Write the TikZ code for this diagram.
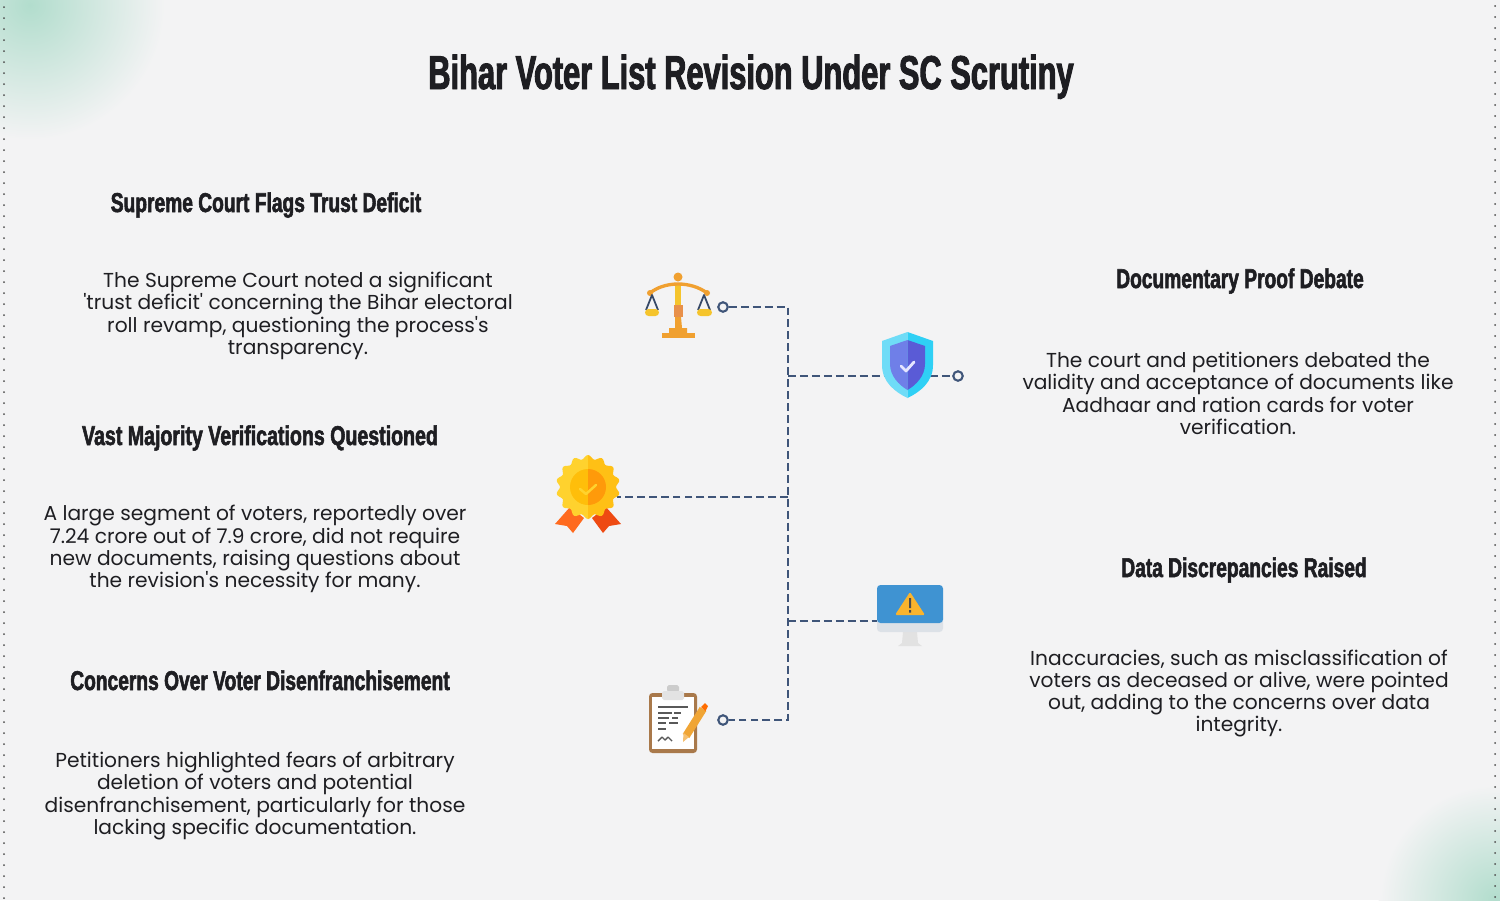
\documentclass[tikz,border=0pt]{standalone}
\usepackage{fontspec}
\newfontfamily\bodyfont{Poppins}
\newfontfamily\titlefont[FakeStretch=0.65,FakeBold=2]{Liberation Sans Bold}
\newfontfamily\headfont[FakeStretch=0.705,FakeBold=2]{Liberation Sans Bold}
\usetikzlibrary{positioning}
\definecolor{pagebg}{HTML}{F3F3F4}
\definecolor{glow}{HTML}{B2DDCD}
\definecolor{linkblue}{HTML}{3F5579}
\definecolor{inkdark}{HTML}{1E1E22}
\definecolor{scalegold}{HTML}{F0A030}
\definecolor{panyellow}{HTML}{F5C42C}
\definecolor{scaleblock}{HTML}{E8904A}
\definecolor{shieldA}{HTML}{6FDCF7}
\definecolor{shieldB}{HTML}{2FD0F5}
\definecolor{shieldC}{HTML}{6F7FE8}
\definecolor{shieldD}{HTML}{5A5BD6}
\definecolor{medalA}{HTML}{FFD22E}
\definecolor{medalB}{HTML}{FFC015}
\definecolor{medalC}{HTML}{FFBE0A}
\definecolor{medalD}{HTML}{FF9A0A}
\definecolor{ribbonA}{HTML}{FF6A1E}
\definecolor{ribbonB}{HTML}{EE4A12}
\definecolor{screenblue}{HTML}{3F93D2}
\definecolor{warnyellow}{HTML}{F9B42D}
\definecolor{chingray}{HTML}{DCE1E7}
\definecolor{standgray}{HTML}{E2E2E2}
\definecolor{boardbrown}{HTML}{A9794B}
\definecolor{pencilgold}{HTML}{F0A535}
\tikzset{
  titletext/.style={font=\titlefont\fontsize{27pt}{30pt}\selectfont,text=inkdark,inner sep=0pt,anchor=base},
  headtext/.style={font=\headfont\fontsize{15.5pt}{18pt}\selectfont,text=inkdark,inner sep=0pt,anchor=base},
  bodytext/.style={font=\bodyfont\fontsize{11.5pt}{12.65pt}\selectfont,text=inkdark,align=center,inner sep=0pt},
  link/.style={draw=linkblue,line width=1.4pt,dash pattern=on 4.5pt off 2.3pt},
  ring/.style={circle,draw=linkblue,line width=1.2pt,fill=pagebg,minimum size=5.4pt,inner sep=0pt},
  edgedot/.style={fill=black!70,radius=1},
}
\begin{document}
\begin{tikzpicture}[x=0.02cm,y=-0.02cm]
  % page and corner glow
  \fill[pagebg] (0,0) rectangle (1500,900);
  \begin{scope}
    \clip (0,0) rectangle (1500,900);
    \fill[inner color=glow,outer color=pagebg] (30,5) circle (135);
    \draw[pagebg,line width=1.5pt] (30,5) circle (135);
    \fill[inner color=glow,outer color=pagebg] (1495,900) circle (115);
    \draw[pagebg,line width=1.5pt] (1495,900) circle (115);
  \end{scope}
  \foreach \y in {7,18,...,900} {
    \fill[edgedot] (4,\y) circle;
    \fill[edgedot] (1495,\y-1) circle;
  }
  \useasboundingbox (0,0) rectangle (1500,900);

  % texts
  \node[titletext] (title) at (751,89) {Bihar Voter List Revision Under SC Scrutiny};
  \node[headtext] (headTrust) at (266,212) {Supreme Court Flags Trust Deficit};
  \node[bodytext] (bodyTrust) at (298,316) {The Supreme Court noted a significant\\'trust deficit' concerning the Bihar electoral\\roll revamp, questioning the process's\\transparency.};
  \node[headtext,xscale=1.02] (headMajority) at (260,445) {Vast Majority Verifications Questioned};
  \node[bodytext] (bodyMajority) at (255,549) {A large segment of voters, reportedly over\\7.24 crore out of 7.9 crore, did not require\\new documents, raising questions about\\the revision's necessity for many.};
  \node[headtext] (headConcern) at (260,690) {Concerns Over Voter Disenfranchisement};
  \node[bodytext] (bodyConcern) at (255,796) {Petitioners highlighted fears of arbitrary\\deletion of voters and potential\\disenfranchisement, particularly for those\\lacking specific documentation.};
  \node[headtext] (headProof) at (1240,288) {Documentary Proof Debate};
  \node[bodytext] (bodyProof) at (1238,393.5) {The court and petitioners debated the\\validity and acceptance of documents like\\Aadhaar and ration cards for voter\\verification.};
  \node[headtext] (headData) at (1244,577) {Data Discrepancies Raised};
  \node[bodytext] (bodyData) at (1239,693.5) {Inaccuracies, such as misclassification of\\voters as deceased or alive, were pointed\\out, adding to the concerns over data\\integrity.};

  % connectors
  \coordinate (trunkTop) at (788,307);
  \coordinate (trunkBot) at (788,720);
  \coordinate (jShield) at (788,376);
  \coordinate (jMedal) at (788,497);
  \coordinate (jScreen) at (788,621);
  \coordinate (medalEnd) at (617,497);
  \coordinate (screenEnd) at (877,621);
  \coordinate (shieldEnd) at (885,376);
  \coordinate (shieldOut) at (930,376);
  \node[ring] (ringScale) at (723,307) {};
  \node[ring] (ringShield) at (958,376) {};
  \node[ring] (ringClip) at (723,720) {};
  \draw[link] (ringScale) -- (trunkTop) -- (trunkBot) -- (ringClip);
  \draw[link] (jShield) -- (shieldEnd);
  \draw[link] (shieldOut) -- (ringShield);
  \draw[link] (jMedal) -- (medalEnd);
  \draw[link] (jScreen) -- (screenEnd);

  % scales
  \fill[panyellow] (675,283) rectangle (681,305);
  \fill[scalegold] (678,277) circle (4.5);
  \draw[scalegold,line width=1.9pt,line cap=round] (650,293) .. controls (665,281) and (691,281) .. (707,293);
  \fill[scalegold] (650,293) circle (3) (707,293) circle (3);
  \draw[linkblue!85!black,line width=1pt,line join=round] (646,310) -- (652,295) -- (658,310);
  \draw[linkblue!85!black,line width=1pt,line join=round] (698,310) -- (704,295) -- (710,310);
  \fill[panyellow,rounded corners=2pt] (645,309) -- (659,309) -- (659,316) -- (645,316) -- cycle;
  \fill[panyellow,rounded corners=2pt] (697,309) -- (712,309) -- (712,316) -- (697,316) -- cycle;
  \fill[scaleblock] (674,305) rectangle (683,317);
  \fill[scalegold] (675,317) -- (681,317) -- (682,328) -- (687,328) -- (687,333) -- (669,333) -- (669,328) -- (675,328) -- cycle;
  \fill[scalegold] (662,333) rectangle (695,338);

  % shield
  \fill[shieldA] (907.5,332) -- (882,341) -- (882,365) .. controls (882,382) and (895,392) .. (907.5,398) -- cycle;
  \fill[shieldB] (907.5,332) -- (933,341) -- (933,365) .. controls (933,382) and (920,392) .. (907.5,398) -- cycle;
  \fill[shieldC] (907.5,340) -- (890,346) -- (890,364) .. controls (890,376) and (899,385) .. (907.5,390) -- cycle;
  \fill[shieldD] (907.5,340) -- (925,346) -- (925,364) .. controls (925,376) and (916,385) .. (907.5,390) -- cycle;
  \draw[white!90!blue,line width=1.6pt,line cap=round,line join=round] (901,366) -- (906,371) -- (914,362);

  % medal
  \fill[ribbonA] (570,507) -- (555,524) -- (567,526) -- (573,533) -- (584,518) -- cycle;
  \fill[ribbonB] (606,507) -- (621,524) -- (609,526) -- (603,533) -- (592,518) -- cycle;
  \begin{scope}
    \clip (550,450) rectangle (588,525);
    \fill[medalA] plot[samples=113,domain=0:360] ({588+(30+2*cos(14*\x))*sin(\x)},{487+(30+2*cos(14*\x))*cos(\x)}) -- cycle;
    \fill[medalC] (588,487) circle (18);
  \end{scope}
  \begin{scope}
    \clip (588,450) rectangle (625,525);
    \fill[medalB] plot[samples=113,domain=0:360] ({588+(30+2*cos(14*\x))*sin(\x)},{487+(30+2*cos(14*\x))*cos(\x)}) -- cycle;
    \fill[medalD] (588,487) circle (18);
  \end{scope}
  \draw[medalA,line width=1.4pt,line cap=round,line join=round] (580,489) -- (586,494) -- (596,485);

  % monitor
  \fill[standgray] (903,632) -- (917,632) -- (918,643) -- (922,646) -- (898,646) -- (902,643) -- cycle;
  \fill[chingray,rounded corners=2pt] (877,615) rectangle (943,632);
  \fill[screenblue,rounded corners=2pt] (877,585) -- (943,585) -- (943,623) -- (877,623) -- cycle;
  \fill[warnyellow,rounded corners=0.8pt] (910,592) -- (925,615) -- (895,615) -- cycle;
  \fill[black!70] (909,598) rectangle (911,608) (909,610) rectangle (911,612.5);

  % clipboard
  \fill[boardbrown,rounded corners=2pt] (649,693) rectangle (697,753);
  \fill[white] (652,697) rectangle (694,749);
  \fill[gray!40,rounded corners=1pt] (667,685) rectangle (679,692);
  \fill[gray!22,rounded corners=1pt] (662,691) rectangle (684,700);
  \foreach \xa/\xb/\ya in {658/688/707,658/672/713,674/681/713,658/669/718,672/678/718,658/666/723,669/678/723,658/666/729}
    \draw[black!65,line width=0.8pt] (\xa,\ya) -- (\xb,\ya);
  \draw[black!65,line width=0.8pt,line join=round] (658,741) -- (662,737) -- (665,740) -- (668,737) -- (672,741);
  \draw[pencilgold,line width=4.4pt] (686,736) -- (703,709);
  \fill[pencilgold!70!white] (683,742) -- (683.5,733) -- (689,737) -- cycle;
  \fill[orange!85!red] (701,707) -- (705,703) -- (708,706) -- (705.5,711) -- cycle;
\end{tikzpicture}
\end{document}
